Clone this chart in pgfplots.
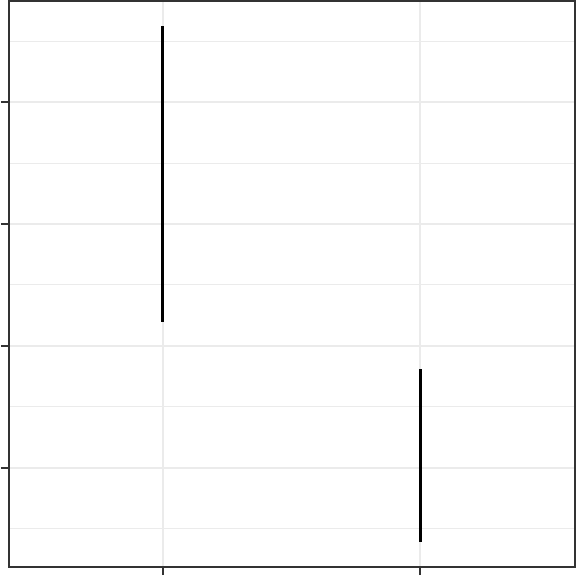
\documentclass[border=0pt]{standalone}
\usepackage{pgfplots}
\pgfplotsset{compat=1.18}
\definecolor{bordc}{HTML}{333333}
\definecolor{gridc}{HTML}{EBEBEB}
\begin{document}
\begin{tikzpicture}
\begin{axis}[
  scale only axis, width=567bp, height=567bp,
  xmin=0.403, xmax=2.601, ymin=0.1844, ymax=4.832,
  xtick={1,2}, ytick={1,2,3,4},
  minor ytick={0.5,1.5,2.5,3.5,4.5},
  xticklabels={}, yticklabels={},
  tick label style={overlay},
  xtick pos=bottom, ytick pos=left,
  tick align=outside,
  major tick length=8bp, minor tick length=0pt,
  major tick style={draw=bordc, line width=2bp},
  minor tick style={draw=none},
  xmajorgrids, ymajorgrids, yminorgrids,
  major grid style={draw=gridc, line width=2bp},
  minor grid style={draw=gridc, line width=1bp},
  axis line style={draw=bordc, line width=1.5bp},
]
\addplot[black, line width=3bp, mark=none] coordinates {(1,2.197) (1,4.623)};
\addplot[black, line width=3bp, mark=none] coordinates {(2,0.393) (2,1.811)};
\end{axis}
\end{tikzpicture}
\end{document}
